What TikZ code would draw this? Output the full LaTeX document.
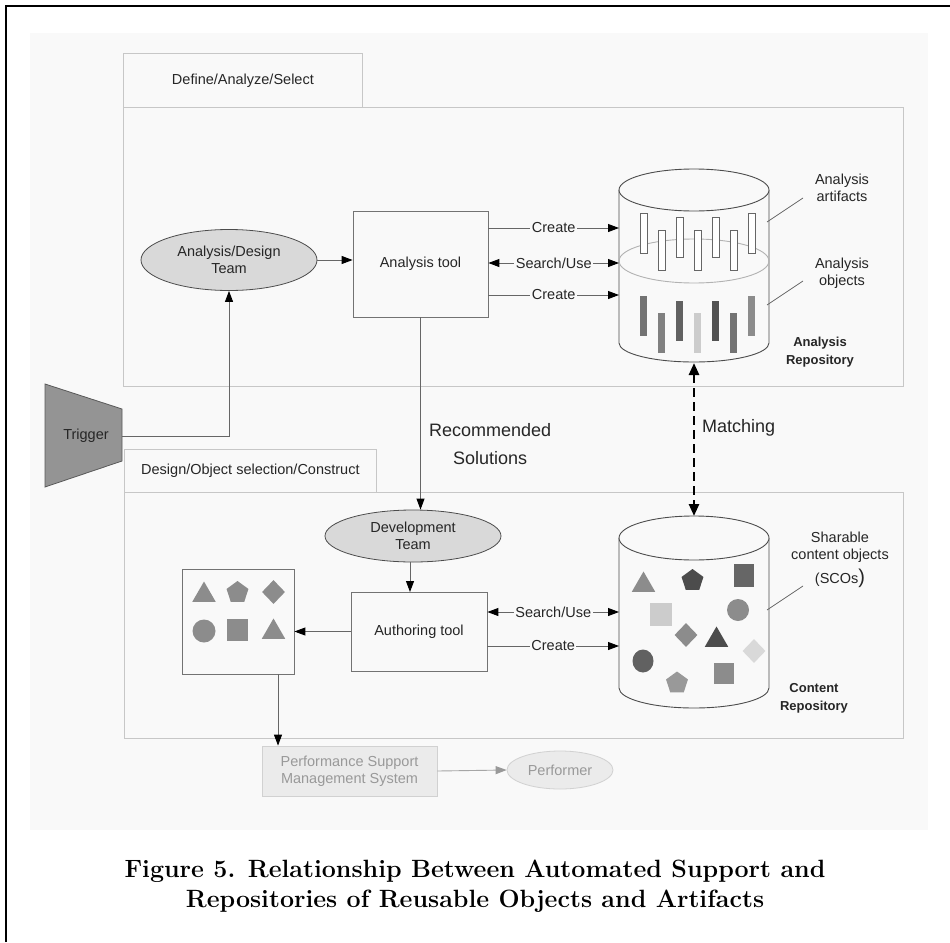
\documentclass[tikz,border=0pt]{standalone}
\usepackage{fontspec}
\setsansfont{Liberation Sans}
\usetikzlibrary{arrows.meta,shapes.geometric}
\definecolor{panel}{gray}{0.975}
\begin{document}
\begin{tikzpicture}[x=1pt,y=-1pt,
  lbl/.style={font=\sffamily\fontsize{14.5}{17}\selectfont, text=black!85, align=center, inner sep=1pt},
  biglbl/.style={font=\sffamily\fontsize{18}{28}\selectfont, text=black!85, align=center, inner sep=1pt},
  boldlbl/.style={font=\sffamily\bfseries\fontsize{13}{18}\selectfont, text=black!85, align=center, inner sep=1pt},
  framebox/.style={draw=black!22, line width=0.8pt, fill=panel, inner sep=0pt},
  toolbox/.style={lbl, draw=black!55, line width=0.8pt, fill=panel, inner sep=0pt},
  team/.style={lbl, ellipse, draw=black!70, line width=0.8pt, fill=black!15, inner sep=0pt},
  faint/.style={lbl, text=black!40, draw=black!18, line width=0.8pt, fill=black!8, inner sep=0pt},
  tip/.style={-{Triangle[length=11pt,width=8pt,color=black]}},
  conn/.style={draw=black!60, line width=0.9pt, tip},
  conn2/.style={draw=black!60, line width=0.9pt, {Triangle[length=11pt,width=8pt,color=black]}-{Triangle[length=11pt,width=8pt,color=black]}},
  onlbl/.style={lbl, fill=panel, inner sep=1.5pt},
  cyl/.style={draw=black!70, line width=0.9pt},
  leader/.style={draw=black!60, line width=0.8pt},
  art/.style={draw=black!60, line width=0.8pt, fill=white},
  sh/.style={inner sep=0pt, draw=none},
  tri/.style={sh, regular polygon, regular polygon sides=3, minimum size=27pt},
  pent/.style={sh, regular polygon, regular polygon sides=5, minimum size=23pt},
  sq/.style={sh, rectangle, minimum width=21pt, minimum height=22pt},
  dia/.style={sh, diamond, minimum width=23pt, minimum height=24pt},
  circ/.style={sh, circle, minimum size=22pt}
]
\useasboundingbox (0,0) rectangle (950,942);
\fill[white] (0,0) rectangle (950,942);
\draw[black, line width=1.3pt] (6,942) -- (6,6) -- (950,6);
\fill[panel] (30,33) rectangle (928,830);

% frames and tabs
\node[framebox, minimum width=780pt, minimum height=279pt, anchor=north west] (frameA) at (123,107) {};
\node[framebox, lbl, minimum width=239pt, minimum height=54pt, anchor=north west] (tabA) at (123,53) {Define/Analyze/Select};
\node[framebox, minimum width=779pt, minimum height=246pt, anchor=north west] (frameB) at (124,492) {};
\node[framebox, lbl, minimum width=252pt, minimum height=43pt, anchor=north west] (tabB) at (124,449) {Design/Object selection/Construct};

% ---- upper part
\node[team, minimum width=176pt, minimum height=61pt] (adteam) at (229,260) {Analysis/Design\\Team};
\node[toolbox, minimum width=135pt, minimum height=106pt] (atool) at (420.5,264) {Analysis tool};

% analysis repository cylinder
\draw[cyl, fill=panel] (619,190) -- (619,343) arc[start angle=180, end angle=360, x radius=75pt, y radius=19pt] -- (769,190);
\draw[cyl, fill=panel] (694,190) ellipse[x radius=75pt, y radius=21pt];
\draw[draw=black!30, line width=0.9pt] (694,261) ellipse[x radius=75pt, y radius=22pt];
\node[inner sep=0pt, minimum width=150pt, minimum height=172pt] (cylA) at (694,276) {};
% artifacts
\foreach \x/\t in {640/213, 658/230, 676/217, 694/230, 712/217, 730/230, 748/213}
  \draw[art] (\x,\t) rectangle ++(7,40);
% objects
\foreach \x/\t/\c in {640/296/55, 658/313/50, 676/301/62, 694/313/20, 712/301/68, 730/313/55, 748/296/45}
  \fill[black!\c] (\x,\t) rectangle ++(7,40);

\coordinate (ca1) at (619,228);
\coordinate (ca2) at (619,263);
\coordinate (ca3) at (619,295);
\draw[conn] (atool.east |- ca1) -- node[onlbl] {Create} (ca1);
\draw[conn2] (atool.east |- ca2) -- node[onlbl] {Search/Use} (ca2);
\draw[conn] (atool.east |- ca3) -- node[onlbl] {Create} (ca3);

\node[lbl] (artlbl) at (842,188) {Analysis\\artifacts};
\node[lbl] (objlbl) at (842,273) {Analysis\\objects};
\node[boldlbl] (arepo) at (820,352) {Analysis\\Repository};
\coordinate (la1) at (767,222);
\coordinate (la2) at (767,305);
\draw[leader] (803,198) -- (la1);
\draw[leader] (803,281) -- (la2);

\draw[conn] (adteam.east) -- (adteam.east -| atool.west);

% trigger
\draw[draw=black!65, line width=0.8pt, fill=black!42] (45,384) -- (122,409) -- (122,461) -- (45,487) -- cycle;
\node[lbl] (trig) at (86,436) {Trigger};
\coordinate (trigR) at (122,436);
\draw[conn] (trigR) -| (adteam.south);

% ---- lower part
\node[team, minimum width=176pt, minimum height=52pt] (devteam) at (413,536) {Development\\Team};
\node[toolbox, minimum width=136pt, minimum height=79pt] (auth) at (419,631.5) {Authoring tool};
\node[draw=black!55, line width=0.8pt, fill=panel, inner sep=0pt, minimum width=112pt, minimum height=105pt] (shbox) at (238,621.5) {};

\draw[conn] (atool.south) -- (atool.south |- devteam.north);
\node[biglbl, anchor=west] (recsol) at (428,444) {Recommended\\Solutions};
\draw[conn] (devteam.south -| 410,0) -- (410,592);
\draw[conn] (auth.west) -- (auth.west -| shbox.east);

% content repository cylinder
\draw[cyl, fill=panel] (619,538) -- (619,688) arc[start angle=180, end angle=360, x radius=75pt, y radius=20pt] -- (769,538);
\draw[cyl, fill=panel] (694,538) ellipse[x radius=75pt, y radius=22pt];
\node[inner sep=0pt, minimum width=150pt, minimum height=170pt] (cylC) at (694,623) {};

\coordinate (cc1) at (619,612);
\coordinate (cc2) at (619,646);
\draw[conn2] (auth.east |- cc1) -- node[onlbl] {Search/Use} (cc1);
\draw[conn] (auth.east |- cc2) -- node[onlbl] {Create} (cc2);

% matching
\coordinate (mA) at (694,363);
\coordinate (mC) at (694,516);
\draw[black, line width=2.6pt, dash pattern=on 9pt off 5pt, {Triangle[length=12pt,width=10pt]}-{Triangle[length=12pt,width=10pt]}] (mA) -- (mC);
\node[biglbl, anchor=west] (match) at (701,428) {Matching};

% shapes in content repository
\node[tri, fill=black!45] (c1) at (643.5,585) {};
\node[pent, fill=black!70] (c2) at (692.5,580.5) {};
\node[sq, fill=black!60, minimum width=20pt, minimum height=23pt] (c3) at (744,575.5) {};
\node[sq, fill=black!20, minimum width=22pt, minimum height=23pt] (c4) at (661,614.5) {};
\node[circ, fill=black!45] (c5) at (738,610) {};
\node[dia, fill=black!45] (c6) at (686,635) {};
\node[tri, fill=black!70] (c7) at (716.5,640) {};
\node[dia, fill=black!15] (c8) at (754,651) {};
\node[ellipse, sh, fill=black!62, minimum width=21pt, minimum height=23pt] (c9) at (643,661) {};
\node[pent, fill=black!40] (c10) at (677,683) {};
\node[sq, fill=black!45, minimum width=20pt, minimum height=21pt] (c11) at (724,673.5) {};

\node[lbl, align=center] (scolbl) at (840,560) {Sharable\\content objects\\[5pt](SCOs{\fontsize{20}{20}\selectfont)}};
\coordinate (lc) at (767,610);
\draw[leader] (803,586) -- (lc);
\node[boldlbl] (crepo) at (814,698) {Content\\Repository};

% shapes in the output box
\node[tri, fill=black!45] (b1) at (204,595) {};
\node[pent, fill=black!45] (b2) at (237.5,592.5) {};
\node[dia, fill=black!45] (b3) at (273.5,592) {};
\node[circ, fill=black!45, minimum size=23pt] (b4) at (204,631) {};
\node[sq, fill=black!45] (b5) at (237.5,630) {};
\node[tri, fill=black!45] (b6) at (273.5,632) {};

% performance support
\node[faint, minimum width=175pt, minimum height=50pt] (psms) at (349.5,771) {Performance Support\\Management System};
\node[faint, ellipse, minimum width=106pt, minimum height=38pt] (perf) at (560,770) {Performer};
\coordinate (sb) at (278,674);
\draw[conn] (sb) -- (sb |- psms.north);
\draw[draw=black!35, line width=0.9pt, -{Triangle[length=11pt,width=8pt,color=black!40]}] (psms.east) -- (perf.west);

% caption
\node[font=\fontsize{25}{30}\selectfont\bfseries, align=center] (cap) at (475,886) {Figure 5. Relationship Between Automated Support and\\Repositories of Reusable Objects and Artifacts};
\end{tikzpicture}
\end{document}
